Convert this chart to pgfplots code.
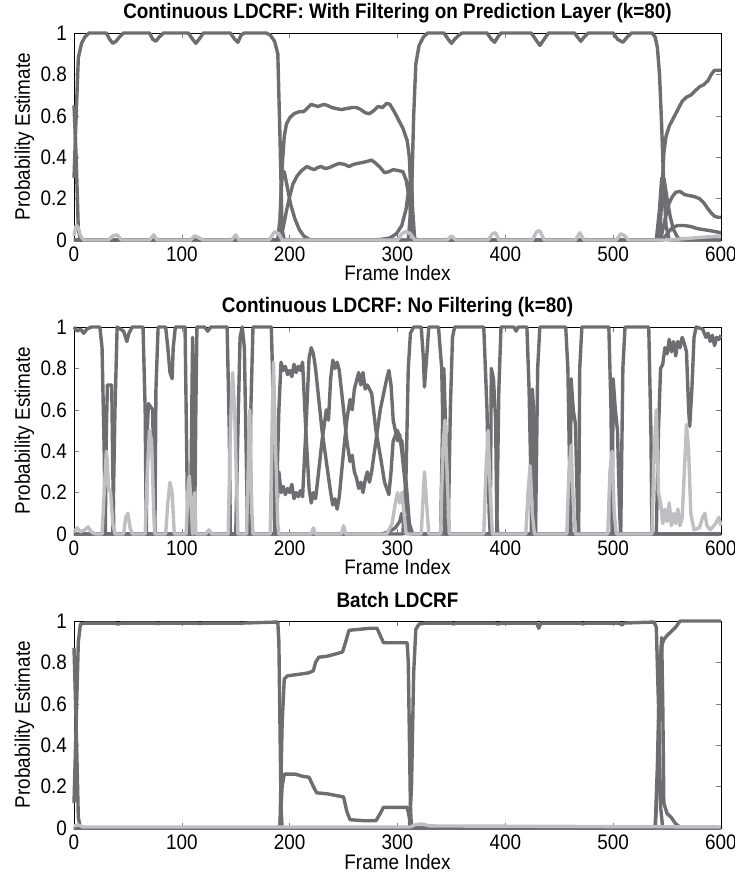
\documentclass[border=0pt]{standalone}
\usepackage{fontspec}
\setmainfont{Liberation Sans}[FakeStretch=0.9]
\usepackage{pgfplots}
\pgfplotsset{compat=1.18}
\definecolor{dk}{RGB}{110,110,114}
\definecolor{lt}{RGB}{190,190,195}
\pgfplotsset{
  prob/.style={
    width=323.5pt, height=103.5pt, scale only axis,
    xmin=0, xmax=600, ymin=0, ymax=1,
    xtick={0,100,...,600}, ytick={0,0.2,0.4,0.6,0.8,1},
    tick align=inside, xtick pos=both, ytick pos=both,
    xticklabel pos=lower, yticklabel pos=left,
    major tick length=2.5pt,
    clip=false,
    /pgf/number format/assume math mode=true,
    tick label style={font=\fontsize{10.5}{12}\selectfont},
    label style={font=\fontsize{10.5}{12}\selectfont},
    title style={font=\bfseries\fontsize{10.5}{12}\selectfont, at={(0.5,1)}, anchor=base, yshift=1pt},
    xlabel={Frame Index}, ylabel={Probability Estimate},
    xlabel style={at={(0.5,0)}, anchor=base, yshift=-20.5pt, inner sep=0.5pt},
    ylabel style={at={(0,0.5)}, anchor=base, yshift=22pt},
    xticklabel style={anchor=base, yshift=-10.75pt, inner sep=0.5pt},
    axis line style={line width=0.4pt},
    no markers,
  },
  dk/.style={color=dk, line width=1.7pt, line join=round},
  lt/.style={color=lt, line width=1.7pt, line join=round},
}
\begin{document}
\begin{tikzpicture}
% ---------- top: filtered ----------
\begin{axis}[prob, at={(0,294pt)}, title={Continuous LDCRF: With Filtering on Prediction Layer (k=80)}]
\addplot[dk] coordinates {(0,0.3) (2,0.6) (4,0.88) (7,0.95) (10,0.98) (14,1) (30,1) (33,0.97) (36,0.95) (39,0.96) (42,0.98) (46,1) (70,1) (73,0.97) (76,0.96) (79,0.98) (83,1) (106,1) (110,0.97) (113,0.95) (116,0.97) (120,1) (145,1) (149,0.97) (152,0.955) (155,0.99) (158,1) (178,1) (182,0.99) (186,0.96) (189,0.9) (191,0.5) (193,0.05) (195,0) (310,0) (313,0.2) (315,0.6) (317,0.85) (320,0.94) (324,0.98) (328,1) (343,1) (347,0.97) (350,0.95) (353,0.97) (357,0.99) (360,1) (383,1) (387,0.97) (390,0.955) (393,0.98) (396,1) (424,1) (428,0.97) (432,0.94) (436,0.97) (440,1) (464,1) (467,0.98) (470,0.96) (473,0.98) (477,1) (500,1) (504,0.97) (509,0.955) (513,0.98) (517,1) (536,1) (539,0.98) (541,0.93) (543,0.8) (545,0.55) (547,0.25) (549,0.07) (552,0) (600,0)};
\addplot[dk] coordinates {(0,0) (189,0) (191,0.1) (193,0.35) (195,0.5) (197,0.56) (200,0.59) (204,0.61) (209,0.62) (213,0.62) (217,0.64) (220,0.655) (223,0.65) (226,0.645) (229,0.65) (232,0.655) (235,0.65) (239,0.64) (243,0.635) (248,0.63) (253,0.635) (258,0.64) (262,0.64) (266,0.63) (270,0.615) (274,0.61) (278,0.625) (282,0.645) (286,0.64) (290,0.66) (293,0.655) (297,0.62) (301,0.58) (305,0.54) (309,0.48) (311,0.4) (313,0.15) (315,0.02) (317,0) (543,0) (545,0.2) (547,0.42) (549,0.5) (552,0.55) (556,0.59) (560,0.63) (564,0.67) (568,0.69) (572,0.7) (576,0.72) (580,0.74) (584,0.75) (588,0.77) (591,0.8) (594,0.82) (600,0.82)};
\addplot[dk] coordinates {(0,0.65) (2,0.4) (4,0.05) (6,0) (189,0) (192,0.02) (194,0.06) (197,0.14) (200,0.21) (203,0.27) (207,0.31) (211,0.335) (216,0.355) (220,0.345) (223,0.34) (226,0.35) (229,0.355) (233,0.345) (237,0.35) (241,0.36) (246,0.37) (251,0.365) (255,0.355) (259,0.365) (263,0.37) (268,0.375) (272,0.38) (276,0.386) (280,0.37) (284,0.35) (288,0.325) (292,0.33) (296,0.34) (301,0.335) (305,0.33) (308,0.29) (311,0.2) (313,0.06) (315,0) (544,0) (546,0.05) (549,0.12) (552,0.18) (555,0.21) (558,0.23) (562,0.235) (566,0.22) (570,0.215) (575,0.21) (580,0.2) (584,0.18) (588,0.15) (591,0.13) (594,0.115) (597,0.11) (600,0.11)};
\addplot[dk] coordinates {(0,0) (191,0) (192,0.2) (193,0.33) (195,0.33) (198,0.25) (201,0.17) (205,0.1) (209,0.05) (213,0.02) (218,0.003) (222,0) (275,0) (285,0.003) (293,0.01) (299,0.03) (304,0.07) (308,0.15) (311,0.27) (313,0.3) (314,0.15) (316,0) (540,0) (543,0.15) (545,0.3) (547,0.3) (550,0.2) (553,0.11) (556,0.05) (560,0.01) (564,0) (600,0)};
\addplot[dk] coordinates {(0,0) (546,0) (550,0.03) (555,0.06) (560,0.07) (566,0.07) (572,0.065) (578,0.055) (584,0.05) (590,0.045) (595,0.04) (600,0.035)};
\addplot[lt] coordinates {(0,0.02) (2,0.07) (4,0.06) (6,0.02) (9,0) (32,0) (36,0.02) (40,0.025) (44,0) (70,0) (74,0.025) (77,0) (108,0) (112,0.02) (116,0.01) (120,0) (146,0) (150,0.025) (153,0) (181,0) (186,0.04) (190,0.03) (193,0) (300,0) (304,0.03) (308,0.04) (312,0.03) (316,0) (346,0) (350,0.02) (354,0) (384,0) (388,0.03) (391,0.035) (394,0) (425,0) (429,0.04) (432,0.045) (436,0) (465,0) (469,0.035) (473,0) (503,0) (507,0.03) (511,0.02) (514,0) (550,0) (600,0.02)};
\end{axis}
% ---------- middle: no filtering ----------
\begin{axis}[prob, at={(0,147pt)}, title={Continuous LDCRF: No Filtering (k=80)}]
\addplot[dk] coordinates {(0,1) (3,0.98) (6,0.99) (9,0.97) (12,0.99) (16,1) (24,1) (26,0.9) (28,0.4) (29,0) (36,0) (38,0.6) (40,1) (46,0.98) (49,0.93) (51,0.97) (54,1) (64,1) (66,0.6) (67,0) (75,0) (76,0.7) (78,1) (85,1) (87,0.9) (89,0.78) (91,0.75) (92,0.9) (94,1) (103,1) (105,0.2) (106,0) (108,0) (109,0.5) (110,0.95) (111,0.5) (112,0.1) (113,0.6) (114,1) (121,1) (124,0.98) (127,1) (142,1) (144,0.5) (145,0) (150,0) (152,0.5) (154,0.95) (156,1) (158,0.9) (160,0.3) (161,0) (163,0) (164,0.6) (166,1) (183,1) (185,0.6) (186,0) (305,0) (308,0.3) (310,0.8) (312,0.97) (315,1) (322,1) (324,0.85) (325,0.71) (327,0.85) (329,1) (338,1) (341,0.8) (343,0.3) (344,0) (347,0) (349,0.6) (351,0.95) (353,1) (380,1) (383,0.6) (385,0.1) (386,0) (392,0) (394,0.7) (396,1) (408,1) (410,0.98) (412,1) (420,1) (422,0.7) (424,0.2) (425,0) (428,0) (430,0.8) (432,1) (456,1) (458,0.8) (460,0.2) (461,0) (468,0) (469,0.8) (471,1) (496,1) (498,0.6) (499,0.1) (500,0) (507,0) (509,0.8) (511,1) (533,1) (535,0.5) (536,0) (540,0) (542,0.5) (544,0.8) (546,0.82) (548,0.9) (550,0.87) (552,0.94) (554,0.88) (556,0.93) (558,0.86) (560,0.93) (562,0.9) (564,0.95) (566,0.92) (568,0.88) (570,0.6) (571,0.52) (573,0.7) (575,0.95) (577,1) (583,0.99) (586,0.95) (588,0.97) (590,0.93) (592,0.96) (594,0.91) (596,0.95) (598,0.94) (600,0.96)};
\addplot[dk] coordinates {(0,0) (29,0) (30,0.5) (31,0.72) (35,0.72) (36,0.3) (37,0) (67,0) (68,0.5) (69,0.63) (73,0.6) (74,0.2) (75,0) (285,0) (292,0.01) (298,0.03) (302,0.06) (304,0.1) (306,0.04) (308,0.08) (310,0.02) (312,0) (340,0) (342,0.6) (343,0.8) (345,0.45) (347,0.1) (348,0) (386,0) (387,0.8) (389,0.75) (391,0.55) (392,0.1) (393,0) (424,0) (425,0.7) (427,0.55) (428,0) (460,0) (461,0.75) (463,0.6) (465,0.53) (467,0.1) (468,0) (499,0) (500,0.75) (502,0.6) (504,0.5) (506,0.1) (507,0) (600,0)};
\addplot[dk] coordinates {(0,0) (187,0) (190,0.6) (192,0.83) (194,0.79) (196,0.81) (198,0.77) (200,0.79) (202,0.76) (204,0.82) (206,0.78) (208,0.81) (210,0.79) (212,0.83) (215,0.5) (218,0.22) (220,0.15) (222,0.2) (224,0.17) (226,0.26) (230,0.45) (234,0.6) (236,0.55) (238,0.75) (240,0.84) (242,0.8) (244,0.83) (246,0.79) (250,0.6) (253,0.45) (256,0.35) (258,0.38) (260,0.3) (262,0.27) (264,0.22) (266,0.25) (268,0.2) (270,0.26) (272,0.3) (274,0.25) (276,0.3) (280,0.45) (284,0.6) (288,0.7) (290,0.75) (292,0.79) (294,0.72) (296,0.55) (300,0.45) (302,0.48) (304,0.4) (308,0.2) (311,0.02) (314,0) (600,0)};
\addplot[dk] coordinates {(0,0) (187,0) (190,0.3) (192,0.2) (194,0.23) (196,0.19) (198,0.22) (200,0.2) (202,0.24) (204,0.17) (206,0.2) (208,0.18) (210,0.21) (212,0.18) (215,0.5) (218,0.85) (220,0.9) (222,0.87) (224,0.8) (226,0.7) (230,0.5) (234,0.35) (238,0.2) (240,0.14) (242,0.17) (244,0.12) (246,0.18) (250,0.4) (253,0.55) (256,0.65) (258,0.6) (260,0.7) (262,0.74) (264,0.78) (266,0.72) (268,0.78) (270,0.7) (272,0.72) (276,0.68) (280,0.5) (284,0.38) (288,0.25) (290,0.22) (292,0.19) (294,0.3) (296,0.45) (300,0.5) (302,0.46) (304,0.45) (308,0.25) (311,0.05) (314,0) (600,0)};
\addplot[lt] coordinates {(0,0.01) (3,0.03) (6,0.01) (10,0.02) (13,0.035) (16,0.01) (20,0) (26,0) (28,0.2) (30,0.4) (31,0.35) (32,0.22) (34,0.2) (36,0.05) (38,0) (46,0) (48,0.08) (50,0.1) (52,0.03) (54,0) (66,0) (68,0.3) (70,0.5) (72,0.45) (74,0.1) (75,0) (85,0) (87,0.15) (89,0.25) (91,0.2) (93,0) (104,0) (106,0.25) (107,0.28) (109,0.1) (110,0) (111,0.15) (112,0.2) (113,0) (122,0) (125,0.02) (128,0) (143,0) (145,0.5) (147,0.78) (149,0.6) (151,0.2) (152,0) (160,0) (162,0.4) (163,0.6) (165,0.1) (166,0) (182,0) (184,0.6) (185,0.83) (187,0.4) (189,0.05) (190,0) (220,0) (222,0.03) (224,0) (248,0) (250,0.04) (252,0) (290,0) (295,0.05) (298,0.15) (300,0.2) (302,0.15) (304,0.2) (306,0.1) (308,0) (322,0) (324,0.2) (325,0.3) (327,0.15) (329,0) (340,0) (342,0.4) (344,0.55) (346,0.3) (348,0) (380,0) (382,0.3) (384,0.5) (386,0.2) (388,0) (419,0) (421,0.2) (423,0.33) (425,0.1) (427,0) (457,0) (459,0.3) (461,0.43) (463,0.15) (465,0) (495,0) (497,0.3) (499,0.4) (501,0.1) (503,0) (536,0) (538,0.4) (540,0.6) (542,0.2) (544,0.15) (546,0.05) (548,0.12) (550,0.06) (552,0.15) (554,0.04) (556,0.1) (558,0.05) (560,0.12) (562,0.04) (564,0.08) (566,0.3) (568,0.53) (570,0.4) (572,0.1) (575,0.02) (580,0.03) (583,0.08) (585,0.1) (587,0.04) (590,0.02) (595,0.05) (598,0.08) (600,0.04)};
\end{axis}
% ---------- bottom: batch ----------
\begin{axis}[prob, at={(0,0)}, title={Batch LDCRF}]
\addplot[dk] coordinates {(0,0.12) (2,0.5) (4,0.9) (6,0.985) (10,0.99) (38,0.99) (41,0.985) (44,0.99) (76,0.99) (78,0.987) (80,0.99) (115,0.99) (117,0.987) (119,0.99) (153,0.99) (155,0.988) (157,0.99) (189,0.995) (190,0.9) (191,0.5) (192,0.1) (193,0) (311,0) (313,0.2) (315,0.75) (317,0.96) (320,0.985) (326,0.99) (350,0.99) (352,0.985) (354,0.99) (390,0.99) (393,0.985) (396,0.99) (429,0.99) (431,0.965) (433,0.99) (470,0.99) (472,0.985) (474,0.99) (506,0.99) (508,0.98) (510,0.99) (538,0.995) (540,0.97) (542,0.6) (544,0.1) (546,0) (600,0)};
\addplot[dk] coordinates {(0,0.87) (2,0.5) (4,0.05) (6,0) (539,0) (541,0.2) (543,0.6) (545,0.88) (547,0.91) (550,0.93) (554,0.95) (558,0.97) (562,1) (600,1)};
\addplot[dk] coordinates {(0,0) (539,0) (541,0.3) (543,0.75) (545,0.92) (546,0.6) (547,0.12) (550,0.07) (554,0.05) (558,0.02) (563,0) (600,0)};
\addplot[dk] coordinates {(0,0) (191,0) (193,0.5) (195,0.72) (198,0.735) (205,0.74) (212,0.745) (218,0.75) (222,0.76) (224,0.8) (227,0.825) (235,0.83) (242,0.84) (249,0.85) (252,0.9) (255,0.955) (265,0.96) (275,0.965) (281,0.965) (284,0.93) (287,0.895) (300,0.895) (309,0.895) (310,0.8) (312,0.1) (313,0) (600,0)};
\addplot[dk] coordinates {(0,0) (191,0) (193,0.2) (195,0.26) (205,0.26) (212,0.25) (218,0.245) (222,0.2) (225,0.17) (235,0.165) (245,0.155) (250,0.15) (253,0.08) (256,0.04) (270,0.035) (280,0.035) (284,0.07) (287,0.1) (300,0.1) (309,0.1) (311,0.05) (312,0) (600,0)};
\addplot[lt] coordinates {(0,0.01) (4,0.015) (8,0.005) (190,0.005) (312,0.005) (316,0.015) (322,0.02) (330,0.01) (600,0.005)};
\end{axis}
\pgfresetboundingbox
\path[use as bounding box] (-37pt,-24.5pt) rectangle (330pt,414pt);
\end{tikzpicture}
\end{document}
